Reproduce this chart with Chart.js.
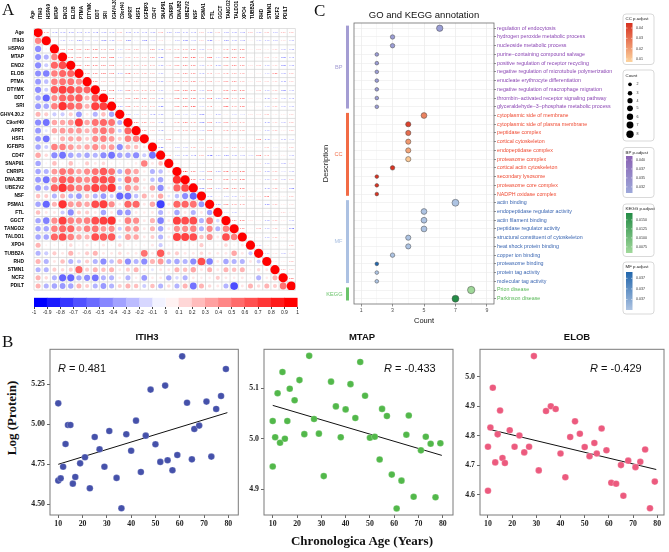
<!DOCTYPE html>
<html>
<head>
<meta charset="utf-8">
<script src="https://cdn.jsdelivr.net/npm/chart.js@4.4.1/dist/chart.umd.min.js"></script>
<style>
    body { margin: 0; width: 669px; height: 552px; position: relative; overflow: hidden; background: #fff; font-family: "Liberation Sans", Arial, sans-serif; }
    canvas { position: absolute; }
    .txt { position: absolute; white-space: nowrap; color: #111; }
    .panel { font-family: "Liberation Serif", "Times New Roman", serif; font-size: 17px; }
    .ttl { font-weight: bold; font-size: 9.5px; transform: translateX(-50%); }
    .rv { font-size: 11px; }
    .serifb { font-family: "Liberation Serif", "Times New Roman", serif; font-weight: bold; font-size: 13px; }
</style>
</head>
<body>
<canvas id="corr-chart" width="300" height="295" style="left:0px;top:0px"></canvas>
<canvas id="corr-bar" width="300" height="30" style="left:0px;top:293px"></canvas>
<canvas id="go-chart" width="349" height="325" style="left:320px;top:0px"></canvas>
<canvas id="sc-itih3" width="230" height="190" style="left:20px;top:340px"></canvas>
<canvas id="sc-mtap" width="229" height="190" style="left:234px;top:340px"></canvas>
<canvas id="sc-elob" width="219" height="190" style="left:450px;top:340px"></canvas>

<div class="txt panel" style="left:2px;top:0px">A</div>
<div class="txt panel" style="left:314px;top:1px">C</div>
<div class="txt panel" style="left:2px;top:332px">B</div>
<div class="txt" style="left:424px;top:9px;font-size:9.5px;transform:translateX(-50%)">GO and KEGG annotation</div>
<div class="txt ttl" style="left:147px;top:331px">ITIH3</div>
<div class="txt ttl" style="left:362px;top:331px">MTAP</div>
<div class="txt ttl" style="left:577px;top:331px">ELOB</div>
<div class="txt rv" style="left:58px;top:362px"><i>R</i> = 0.481</div>
<div class="txt rv" style="left:384px;top:362px"><i>R</i> = -0.433</div>
<div class="txt rv" style="left:590px;top:362px"><i>R</i> = -0.429</div>
<div class="txt serifb" style="left:12px;top:418px;transform:translate(-50%,-50%) rotate(-90deg)">Log (Protein)</div>
<div class="txt serifb" style="left:362px;top:533px;transform:translateX(-50%)">Chronologica Age (Years)</div>

<script>
// ---------- panel A: correlation matrix ----------
const vars = ['Age', 'ITIH3', 'HSPA9', 'MTAP', 'ENO2', 'ELOB', 'PTMA', 'DTYMK', 'DDT', 'SRI', 'IGHV4.30.2', 'C9orf40', 'APRT', 'HSF1', 'IGFBP3', 'CD47',
    'SNAP91', 'CNRIP1', 'DNAJB2', 'UBE2V2', 'NSF', 'PSMA1', 'FTL', 'GGCT', 'TANGO2', 'TALDO1', 'XPO4', 'TUBB2A', 'RHD', 'STMN1', 'NCF2', 'PDILT'];

// lower triangle, row i holds r(i, 0..i-1)
const corrLower = [
    [0.48],
    [-0.45, 0.05],
    [-0.43, -0.3, 0.5],
    [-0.45, -0.2, 0.6, 0.7],
    [-0.43, -0.5, 0.5, 0.6, 0.6],
    [-0.4, -0.25, 0.5, 0.55, 0.55, 0.45],
    [-0.45, -0.2, 0.65, 0.75, 0.7, 0.6, 0.6],
    [-0.35, -0.6, 0.45, 0.6, 0.6, 0.65, 0.3, 0.65],
    [-0.4, -0.35, 0.5, 0.8, 0.6, 0.55, 0.3, 0.75, 0.75],
    [0.3, 0.2, -0.2, -0.2, 0.2, -0.4, 0.1, -0.3, 0.25, -0.35],
    [-0.45, -0.55, 0.35, 0.35, 0.4, 0.75, 0.35, 0.55, 0.6, 0.55, -0.3],
    [-0.4, -0.1, 0.35, 0.4, 0.4, 0.4, 0.3, 0.45, 0.55, 0.45, -0.2, 0.6],
    [-0.4, -0.55, 0.1, 0.3, 0.35, 0.35, 0.2, 0.45, 0.5, 0.4, 0.2, 0.5, 0.5],
    [-0.35, -0.2, 0.5, 0.5, 0.4, 0.3, 0.35, 0.45, 0.35, 0.4, -0.45, 0.3, 0.25, 0.1],
    [0.35, 0.15, -0.45, -0.55, -0.35, -0.3, -0.35, -0.3, -0.45, -0.55, -0.35, -0.35, -0.45, -0.2, -0.55],
    [-0.35, 0.05, 0.25, 0.05, 0.25, 0.05, 0.2, 0.1, 0.15, 0.05, 0.05, 0.05, 0.08, 0.5, 0.1, 0.25],
    [-0.35, -0.3, 0.4, 0.55, 0.5, 0.35, 0.45, 0.55, 0.65, 0.55, -0.3, 0.45, 0.35, 0.08, -0.3, -0.25, 0.08],
    [-0.4, -0.55, 0.45, 0.65, 0.6, 0.5, 0.45, 0.65, 0.7, 0.65, -0.2, 0.55, 0.45, 0.1, -0.25, -0.35, 0.05, 0.8],
    [-0.4, -0.3, 0.6, 0.8, 0.6, 0.5, 0.55, 0.75, 0.65, 0.8, -0.2, 0.45, 0.35, 0.1, 0.35, -0.45, 0.1, 0.6, 0.7],
    [0.25, 0.2, -0.3, 0.3, -0.3, -0.4, 0.25, -0.3, -0.4, -0.2, -0.6, -0.55, -0.25, 0.3, 0.15, 0.35, -0.1, -0.25, -0.45, -0.6],
    [-0.35, -0.6, 0.3, 0.8, 0.4, 0.4, 0.35, 0.7, 0.75, 0.45, 0.1, 0.6, 0.6, 0.1, 0.35, -0.75, 0.1, 0.6, 0.6, 0.55, -0.4],
    [0.25, 0.1, 0.1, -0.2, -0.45, 0.2, 0.2, 0.1, -0.35, 0.1, -0.4, -0.4, 0.1, 0.08, 0.1, -0.3, 0.08, -0.35, 0.1, -0.3, 0.1, -0.35],
    [-0.35, -0.5, 0.45, 0.75, 0.5, 0.45, 0.5, 0.7, 0.75, 0.8, 0.1, 0.5, 0.45, 0.1, 0.3, -0.5, 0.1, 0.75, 0.7, 0.7, -0.3, 0.55, -0.15],
    [-0.35, -0.35, 0.5, 0.6, 0.6, 0.35, 0.5, 0.55, 0.4, 0.45, -0.2, 0.4, 0.4, 0.1, 0.3, -0.35, 0.1, 0.45, 0.45, 0.5, -0.3, 0.45, -0.3, 0.5],
    [-0.35, -0.35, 0.6, 0.7, 0.5, 0.35, 0.3, 0.7, 0.65, 0.65, -0.15, 0.4, 0.35, 0.1, 0.2, -0.3, 0.1, 0.75, 0.75, 0.7, 0.25, 0.45, 0.1, 0.7, 0.5],
    [0.3, 0.05, 0.05, 0.05, 0.15, 0.05, 0.1, 0.05, 0.1, 0.05, 0.15, 0.05, 0.05, 0.05, 0.1, -0.2, 0.05, 0.05, 0.05, 0.05, 0.2, 0.05, 0.05, 0.15, 0.05, 0.1],
    [-0.3, -0.2, 0.2, 0.1, 0.3, 0.1, 0.2, 0.3, 0.1, 0.1, 0.15, 0.1, 0.1, 0.55, 0.1, 0.65, 0.15, 0.2, 0.1, 0.1, 0.15, 0.1, 0.1, 0.1, 0.35, 0.1, -0.2],
    [0.3, -0.3, 0.1, 0.25, -0.3, -0.2, 0.2, -0.3, -0.45, -0.25, 0.3, -0.45, -0.3, -0.45, 0.3, 0.4, -0.3, -0.35, -0.3, -0.45, 0.7, -0.5, 0.1, -0.35, -0.3, -0.3, 0.1, -0.2],
    [-0.3, -0.3, 0.2, 0.15, 0.2, 0.6, 0.2, 0.3, 0.25, 0.3, 0.1, 0.2, 0.3, 0.1, -0.1, 0.1, 0.1, 0.3, 0.25, 0.35, 0.1, 0.3, 0.1, 0.3, 0.25, 0.3, 0.05, 0.15, 0.1],
    [0.3, 0.15, -0.3, -0.6, -0.6, -0.35, -0.45, -0.55, -0.3, -0.3, 0.1, -0.3, 0.08, -0.4, 0.08, 0.1, -0.35, -0.15, -0.3, 0.1, 0.08, 0.08, 0.2, 0.1, 0.08, 0.1, 0.05, -0.3, 0.08, 0.3],
    [0.3, -0.3, -0.35, -0.4, -0.35, 0.3, 0.2, -0.3, -0.4, -0.3, 0.2, 0.3, 0.25, -0.2, 0.25, -0.3, 0.15, -0.3, 0.3, -0.55, 0.3, 0.15, 0.1, -0.3, -0.7, 0.1, 0.3, 0.15, 0.3, 0.2, 0.55]
];
const colorbarBreaks = [-1, -0.9, -0.8, -0.7, -0.6, -0.5, -0.4, -0.3, -0.2, -0.1, 0, 0.1, 0.2, 0.3, 0.4, 0.5, 0.6, 0.7, 0.8, 0.9, 1];

// ---------- panel C: GO / KEGG dot plot ----------
const bpTerms = ['regulation of endocytosis', 'hydrogen peroxide metabolic process', 'nucleoside metabolic process', 'purine\u2212containing compound salvage',
    'positive regulation of receptor recycling', 'negative regulation of microtubule polymerization', 'enucleate erythrocyte differentiation',
    'negative regulation of macrophage migration', 'thrombin\u2212activated receptor signaling pathway', 'glyceraldehyde\u22123\u2212phosphate metabolic process'];
const ccTerms = ['cytoplasmic side of membrane', 'cytoplasmic side of plasma membrane', 'peptidase complex', 'cortical cytoskeleton', 'endopeptidase complex',
    'proteasome complex', 'cortical actin cytoskeleton', 'secondary lysosome', 'proteasome core complex', 'NADPH oxidase complex'];
const mfTerms = ['actin binding', 'endopeptidase regulator activity', 'actin filament binding', 'peptidase regulator activity', 'structural constituent of cytoskeleton',
    'heat shock protein binding', 'copper ion binding', 'proteasome binding', 'protein tag activity', 'molecular tag activity'];
const keggTerms = ['Prion disease', 'Parkinson disease'];

const bpCount = [6, 3, 3, 2, 2, 2, 2, 2, 2, 2];
const ccCount = [5, 4, 4, 4, 4, 4, 3, 2, 2, 2];
const mfCount = [7, 5, 5, 5, 4, 4, 3, 2, 2, 2];
const keggCount = [8, 7];

const bpPadj = [0.0322, 0.0326, 0.0326, 0.0325, 0.0325, 0.0325, 0.0325, 0.0325, 0.0325, 0.0325];
const ccPadj = [0.026, 0.041, 0.031, 0.021, 0.018, 0.010, 0.044, 0.044, 0.044, 0.044];
const mfPadj = [0.0369, 0.0369, 0.0369, 0.0369, 0.0369, 0.0369, 0.0369, 0.03708, 0.0369, 0.0369];
const keggPadj = [0.0060, 0.0168];

const countLegend = [2, 3, 4, 5, 6, 7, 8];
const ccLegendTicks = [0.04, 0.03, 0.02, 0.01];
const ccLegendLabels = ['0.04', '0.03', '0.02', '0.01'];
const bpLegendTicks = [0.04, 0.0375, 0.035, 0.0325];
const bpLegendLabels = ['0.040', '0.037', '0.035', '0.032'];
const keggLegendTicks = [0.015, 0.0125, 0.01, 0.0075];
const keggLegendLabels = ['0.0150', '0.0125', '0.0100', '0.0075'];
const mfLegendTicks = [0.03705, 0.037, 0.03695];
const mfLegendLabels = ['0.037', '0.037', '0.037'];

// ---------- panel B: scatter plots ----------
const ages = [10, 10, 11, 12, 13, 14, 15, 16, 17, 19, 21, 23, 25, 27, 29, 31, 34, 36, 38, 40, 42, 44, 46, 48, 50, 52, 54, 55, 57, 59, 61, 63, 65, 66, 68, 71, 73, 75, 77, 79];
const itih3 = [4.648, 5.131, 4.662, 4.735, 4.877, 4.996, 4.996, 4.629, 4.671, 4.756, 4.794, 4.600, 4.921, 4.844, 4.735, 4.958, 4.665, 4.475, 4.938, 4.835,
    5.023, 4.702, 4.929, 5.217, 4.875, 4.765, 5.242, 4.775, 4.713, 4.808, 5.425, 5.135, 4.781, 4.971, 4.992, 5.142, 4.798, 5.096, 5.177, 5.346];
const mtap = [5.035, 4.945, 5.003, 5.090, 4.992, 5.132, 5.000, 5.035, 5.099, 5.076, 5.116, 5.009, 5.164, 5.039, 5.010, 4.926, 5.113, 5.064, 5.003, 5.058,
    5.108, 5.041, 5.152, 5.085, 5.002, 5.004, 4.959, 5.059, 5.045, 4.929, 4.862, 4.917, 5.008, 5.046, 4.885, 4.977, 5.004, 4.990, 4.884, 4.991];
const elob = [4.763, 4.614, 4.828, 4.963, 4.710, 4.805, 4.886, 4.725, 4.708, 4.819, 4.763, 4.801, 4.744, 4.763, 5.070, 4.683, 4.884, 4.900, 4.891, 4.740,
    4.660, 4.796, 4.849, 4.807, 4.762, 4.731, 4.776, 4.740, 4.825, 4.751, 4.641, 4.638, 4.701, 4.597, 4.716, 4.694, 4.712, 4.754, 4.555, 4.645];
const fitAges = [10, 79.6];
const itih3Fit = [4.750, 5.073];
const mtapFit = [5.066, 4.967];
const elobFit = [4.823, 4.686];

Chart.defaults.font.family = '"Liberation Sans", Arial, sans-serif';
Chart.defaults.animation = false;
Chart.defaults.events = [];
Chart.defaults.plugins.legend.display = false;
Chart.defaults.plugins.tooltip.enabled = false;

function corrColor(v) {
    const k = Math.round(255 * (1 - Math.min(1, Math.abs(v))));
    return v >= 0 ? `rgb(255,${k},${k})` : `rgb(${k},${k},255)`;
}

function hexToRgb(h) {
    return [parseInt(h.slice(1, 3), 16), parseInt(h.slice(3, 5), 16), parseInt(h.slice(5, 7), 16)];
}

function gradColor(lo, hi, t) {
    const a = hexToRgb(lo), b = hexToRgb(hi);
    t = Math.max(0, Math.min(1, t));
    return `rgb(${a.map((c, i) => Math.round(c + (b[i] - c) * t)).join(',')})`;
}

// ===== correlation matrix =====
const corrPoints = [];
vars.forEach((name, i) => {
    for (let j = 0; j < i; j++) corrPoints.push({ x: j, y: i, v: corrLower[i - 1][j] });
    corrPoints.push({ x: i, y: i, v: 1 });
});

const corrDecor = {
    id: 'corrDecor',
    beforeDatasetsDraw(chart) {
        const { ctx, chartArea: a, scales: { x, y } } = chart;
        ctx.save();
        ctx.strokeStyle = '#d2d2d2';
        ctx.lineWidth = 0.7;
        ctx.beginPath();
        for (let k = 0; k <= vars.length; k++) {
            const px = x.getPixelForValue(k - 0.5), py = y.getPixelForValue(k - 0.5);
            ctx.moveTo(px, a.top); ctx.lineTo(px, a.bottom);
            ctx.moveTo(a.left, py); ctx.lineTo(a.right, py);
        }
        ctx.stroke();
        ctx.restore();
    },
    afterDatasetsDraw(chart) {
        const { ctx, scales: { x, y } } = chart;
        ctx.save();
        ctx.font = 'bold 2.5px "Liberation Sans"';
        ctx.textAlign = 'center';
        ctx.textBaseline = 'middle';
        for (let i = 1; i < vars.length; i++) {
            for (let j = 0; j < i; j++) {
                const v = corrLower[i - 1][j];
                ctx.fillStyle = corrColor(v);
                ctx.fillText(v.toFixed(2), x.getPixelForValue(i), y.getPixelForValue(j));
            }
        }
        ctx.restore();
    }
};

const idxTicks = s => { s.ticks = vars.map((n, i) => ({ value: i })); };

new Chart(document.getElementById('corr-chart'), {
    type: 'scatter',
    data: {
        datasets: [{
            data: corrPoints,
            pointRadius: c => 4.6 * Math.sqrt(Math.abs(c.raw.v)),
            backgroundColor: c => corrColor(c.raw.v),
            borderWidth: 0
        }]
    },
    options: {
        responsive: false,
        layout: { padding: { left: 0, top: 0, right: 2, bottom: 3.2 } },
        scales: {
            x: {
                type: 'linear', position: 'top', min: -0.5, max: vars.length - 0.5,
                afterBuildTicks: idxTicks,
                afterFit: s => { s.height = 28.5; },
                grid: { display: false }, border: { display: false },
                ticks: { autoSkip: false, minRotation: 90, maxRotation: 90, padding: 1.5, color: '#000', font: { size: 4.6, weight: 'bold' }, callback: v => vars[v] }
            },
            y: {
                type: 'linear', reverse: true, min: -0.5, max: vars.length - 0.5,
                afterBuildTicks: idxTicks,
                afterFit: s => { s.width = 34; },
                grid: { display: false }, border: { display: false },
                ticks: { autoSkip: false, padding: 2, color: '#000', font: { size: 4.8, weight: 'bold' }, callback: v => vars[v] }
            }
        }
    },
    plugins: [corrDecor]
});

// colour key below the matrix
new Chart(document.getElementById('corr-bar'), {
    type: 'bar',
    data: {
        datasets: [{
            data: colorbarBreaks.slice(0, -1).map((lo, k) => ({ x: [lo, colorbarBreaks[k + 1]], y: 'key' })),
            backgroundColor: colorbarBreaks.slice(0, -1).map((lo, k) => corrColor(-1 + 2 * k / 19)),
            barPercentage: 1, categoryPercentage: 1
        }]
    },
    options: {
        responsive: false,
        indexAxis: 'y',
        layout: { padding: { left: 34, top: 4.7, right: 2, bottom: 0 } },
        scales: {
            y: { type: 'category', labels: ['key'], display: false },
            x: {
                type: 'linear', min: -1, max: 1,
                afterBuildTicks: s => { s.ticks = colorbarBreaks.map(v => ({ value: v })); },
                afterFit: s => { s.height = 16; },
                border: { display: false },
                grid: { drawOnChartArea: false, tickLength: 2, tickColor: '#444' },
                ticks: { autoSkip: false, minRotation: 0, maxRotation: 0, padding: 1, color: '#222', font: { size: 5 }, callback: v => String(+v.toFixed(1)) }
            }
        }
    }
});

// ===== GO / KEGG dot plot =====
const groups = [
    { name: 'BP', terms: bpTerms, count: bpCount, padj: bpPadj, bar: '#A49DD3', text: '#8C47B4', lo: '#9DA8DA', hi: '#8A62B4', range: [0.0308, 0.0411] },
    { name: 'CC', terms: ccTerms, count: ccCount, padj: ccPadj, bar: '#F26B45', text: '#EF4A32', lo: '#FDD49E', hi: '#D7301F', range: [0.0071, 0.0449] },
    { name: 'MF', terms: mfTerms, count: mfCount, padj: mfPadj, bar: '#ACC1E2', text: '#3A66B2', lo: '#ADC3E2', hi: '#2166AC', range: [0.0369, 0.03708] },
    { name: 'KEGG', terms: keggTerms, count: keggCount, padj: keggPadj, bar: '#6BC46B', text: '#58B857', lo: '#A1D99B', hi: '#238B45', range: [0.0058, 0.0169] }
];
const goTerms = [], goPoints = [], goColors = [], goTextColors = [];
groups.forEach(g => {
    g.start = goTerms.length;
    g.terms.forEach((t, k) => {
        goPoints.push({ x: g.count[k], y: goTerms.length });
        goColors.push(gradColor(g.lo, g.hi, (g.padj[k] - g.range[0]) / (g.range[1] - g.range[0])));
        goTextColors.push(g.text);
        goTerms.push(t);
    });
    g.end = goTerms.length - 1;
});
const sizeOf = c => 1.3 * Math.sqrt(c);

const goDecor = {
    id: 'goDecor',
    afterDraw(chart) {
        const { ctx, chartArea: a, scales: { y } } = chart;
        ctx.save();
        ctx.strokeStyle = '#6e6e6e';
        ctx.lineWidth = 0.8;
        ctx.strokeRect(a.left, a.top, a.right - a.left, a.bottom - a.top);

        // group strips on the left
        ctx.font = '5.6px "Liberation Sans"';
        ctx.textAlign = 'right';
        ctx.textBaseline = 'middle';
        groups.forEach(g => {
            const y0 = y.getPixelForValue(g.start - 0.3), y1 = y.getPixelForValue(g.end + 0.2);
            ctx.fillStyle = g.bar;
            ctx.fillRect(26, y0, 3, y1 - y0);
            ctx.fillText(g.name, 22.5, (y0 + y1) / 2);
        });
        ctx.fillStyle = '#222';
        ctx.font = '7.5px "Liberation Sans"';
        ctx.textAlign = 'center';
        ctx.translate(6, (a.top + a.bottom) / 2);
        ctx.rotate(-Math.PI / 2);
        ctx.fillText('Description', 0, 0);
        ctx.restore();

        // legends on the right
        const bx = 303, bw = 31;
        const box = (y0, y1) => {
            ctx.beginPath();
            if (ctx.roundRect) ctx.roundRect(bx, y0, bw, y1 - y0, 3); else ctx.rect(bx, y0, bw, y1 - y0);
            ctx.fillStyle = '#fff';
            ctx.fill();
            ctx.strokeStyle = '#cfcfcf';
            ctx.lineWidth = 0.8;
            ctx.stroke();
        };
        const title = (txt, ty) => {
            ctx.fillStyle = '#222';
            ctx.font = '4.4px "Liberation Sans"';
            ctx.textAlign = 'left';
            ctx.textBaseline = 'middle';
            ctx.fillText(txt, bx + 2.5, ty);
        };
        const gradLegend = (g, label, y0, y1, gy0, gy1, ticks, labels) => {
            box(y0, y1);
            title(label, y0 + 5);
            const grd = ctx.createLinearGradient(0, gy1, 0, gy0);
            grd.addColorStop(0, g.lo);
            grd.addColorStop(1, g.hi);
            ctx.fillStyle = grd;
            ctx.fillRect(bx + 3, gy0, 6.5, gy1 - gy0);
            ctx.font = '3.6px "Liberation Sans"';
            ctx.fillStyle = '#333';
            ticks.forEach((v, k) => {
                const ty = gy1 - (v - g.range[0]) / (g.range[1] - g.range[0]) * (gy1 - gy0);
                ctx.strokeStyle = '#fff';
                ctx.lineWidth = 0.5;
                ctx.beginPath(); ctx.moveTo(bx + 3, ty); ctx.lineTo(bx + 4.5, ty); ctx.moveTo(bx + 8, ty); ctx.lineTo(bx + 9.5, ty); ctx.stroke();
                ctx.fillText(labels[k], bx + 13, ty);
            });
        };
        ctx.save();
        gradLegend(groups[1], 'CC p.adjust', 14, 64.5, 23, 62, ccLegendTicks, ccLegendLabels);

        box(70, 141);
        title('Count', 76);
        const countY = [84.3, 93.3, 100.7, 108.3, 116.7, 125, 134.3];
        countLegend.forEach((c, k) => {
            ctx.fillStyle = '#000';
            ctx.beginPath();
            ctx.arc(bx + 7, countY[k], sizeOf(c), 0, Math.PI * 2);
            ctx.fill();
            ctx.font = '3.6px "Liberation Sans"';
            ctx.fillStyle = '#333';
            ctx.fillText(String(c), bx + 13.5, countY[k]);
        });

        gradLegend(groups[0], 'BP p.adjust', 147.5, 197.5, 156, 193, bpLegendTicks, bpLegendLabels);
        gradLegend(groups[3], 'KEGG p.adjust', 204, 256.5, 213, 253, keggLegendTicks, keggLegendLabels);
        gradLegend(groups[2], 'MF p.adjust', 262, 314, 272, 310, mfLegendTicks, mfLegendLabels);
        ctx.restore();
    }
};

new Chart(document.getElementById('go-chart'), {
    type: 'scatter',
    data: {
        datasets: [{
            data: goPoints,
            pointRadius: goPoints.map(p => sizeOf(p.x)),
            backgroundColor: goColors,
            borderColor: '#4a4a4a',
            borderWidth: 0.5
        }]
    },
    options: {
        responsive: false,
        layout: { padding: { left: 34, top: 23, right: 49, bottom: 0 } },
        scales: {
            x: {
                type: 'linear', min: 0.55, max: 9.45,
                afterBuildTicks: s => { s.ticks = [1, 2, 3, 4, 5, 6, 7, 8, 9].map(v => ({ value: v })); },
                afterFit: s => { s.height = 21; },
                border: { display: false },
                grid: {
                    color: c => (c.tick && c.tick.value % 2 === 1) ? '#e6e6e6' : '#f3f3f3',
                    tickColor: c => (c.tick && c.tick.value % 2 === 1) ? '#444' : 'rgba(0,0,0,0)',
                    tickLength: 2.5, lineWidth: 0.6
                },
                ticks: { autoSkip: false, maxRotation: 0, padding: 1, color: '#4d4d4d', font: { size: 5.2 }, callback: v => (v % 2 === 1 ? String(v) : '') },
                title: { display: true, text: 'Count', color: '#111', font: { size: 7.5 }, padding: { top: 1, bottom: 0 } }
            },
            y: {
                type: 'linear', position: 'right', reverse: true, min: -0.6, max: goTerms.length - 0.4,
                afterBuildTicks: s => { s.ticks = goTerms.map((t, i) => ({ value: i })); },
                afterFit: s => { s.width = 126; },
                border: { display: false },
                grid: { color: '#ebebeb', tickColor: '#444', tickLength: 2, lineWidth: 0.6 },
                ticks: { autoSkip: false, padding: 1, font: { size: 5.3 }, color: c => goTextColors[c.index], callback: v => goTerms[v] }
            }
        }
    },
    plugins: [goDecor]
});

// ===== scatter panels =====
const frame = {
    id: 'frame',
    afterDraw(chart) {
        const { ctx, chartArea: a } = chart;
        ctx.save();
        ctx.strokeStyle = '#7a7a7a';
        ctx.lineWidth = 1;
        ctx.strokeRect(a.left, a.top, a.right - a.left, a.bottom - a.top);
        ctx.restore();
    }
};

function scatterPanel(id, values, fit, color, yScale, xScale, padRight) {
    const tickFont = { family: '"Liberation Serif", "Times New Roman", serif', size: 7.8, weight: 'bold' };
    return new Chart(document.getElementById(id), {
        type: 'scatter',
        data: {
            datasets: [
                {
                    type: 'line', data: fitAges.map((a, k) => ({ x: a, y: fit[k] })),
                    borderColor: '#111', borderWidth: 1, pointRadius: 0, order: 2
                },
                {
                    data: ages.map((a, k) => ({ x: a, y: values[k] })),
                    pointRadius: 3.3, backgroundColor: color, borderColor: 'rgba(255,255,255,0.35)', borderWidth: 0.6, order: 1
                }
            ]
        },
        options: {
            responsive: false,
            layout: { padding: { left: 0, top: 9.3, right: padRight, bottom: 0 } },
            scales: {
                x: {
                    type: 'linear', min: xScale[0], max: xScale[1],
                    afterFit: s => { s.height = 15; },
                    border: { display: false },
                    grid: { drawOnChartArea: false, tickLength: 3, tickColor: '#666' },
                    ticks: { stepSize: 10, includeBounds: false, padding: 1.5, color: '#222', font: tickFont }
                },
                y: {
                    type: 'linear', min: yScale.min, max: yScale.max,
                    afterFit: s => { s.width = 30; },
                    border: { display: false },
                    grid: { drawOnChartArea: false, tickLength: 3, tickColor: '#666' },
                    ticks: { stepSize: yScale.step, includeBounds: false, padding: 2, color: '#222', font: tickFont, callback: v => v.toFixed(yScale.dec) }
                }
            }
        },
        plugins: [frame]
    });
}

scatterPanel('sc-itih3', itih3, itih3Fit, '#4551AA', { min: 4.433, max: 5.469, step: 0.25, dec: 2 }, [6.6, 84.1], 11.7);
scatterPanel('sc-mtap', mtap, mtapFit, '#52B84A', { min: 4.849, max: 5.177, step: 0.1, dec: 1 }, [6.4, 84.2], 10);
scatterPanel('sc-elob', elob, elobFit, '#EC5A7E', { min: 4.532, max: 5.093, step: 0.1, dec: 1 }, [6.7, 82.8], 5);
</script>
</body>
</html>
